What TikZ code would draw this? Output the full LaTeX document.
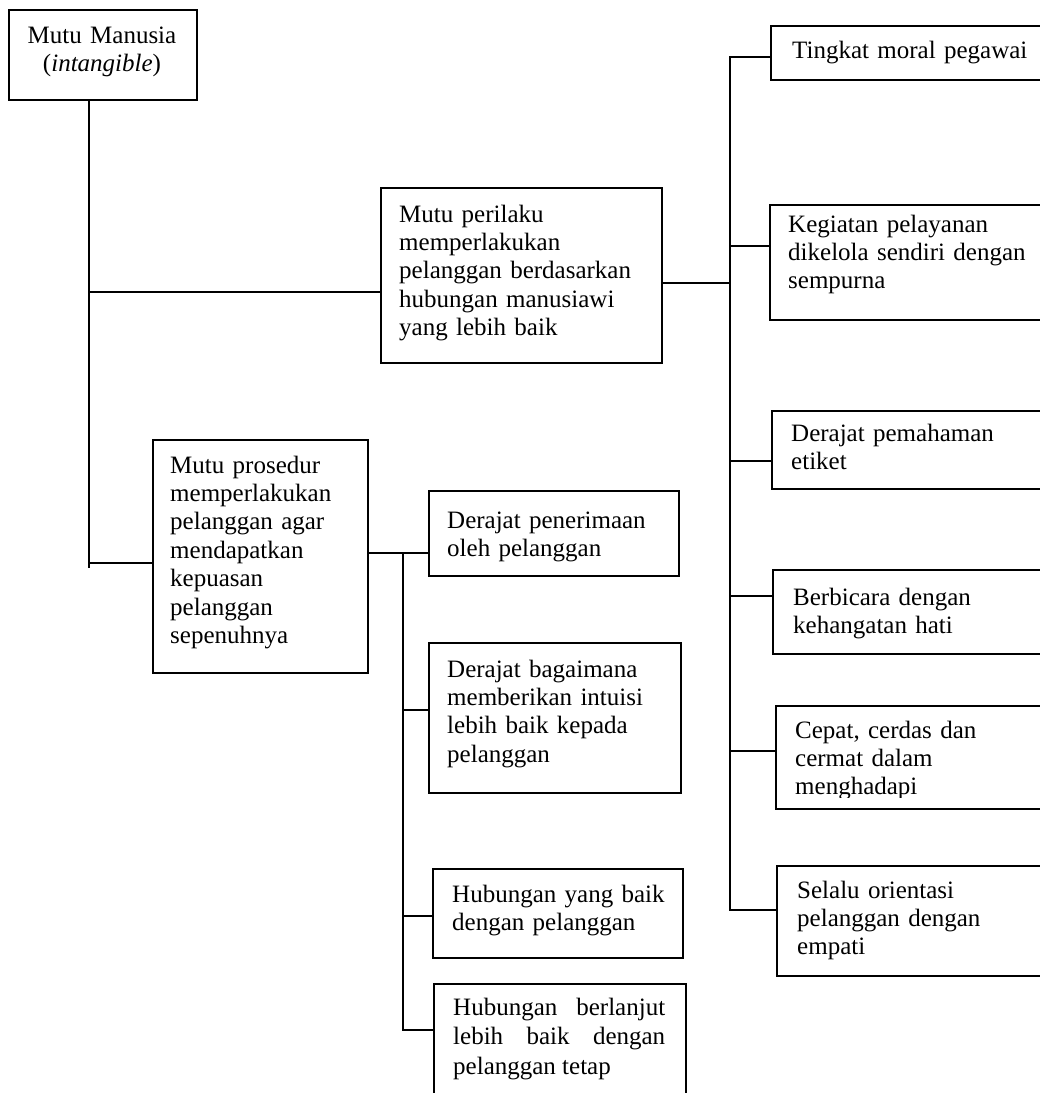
\documentclass[tikz,border=0pt]{standalone}
\usepackage{fontspec}
\setmainfont{Liberation Serif}
\begin{document}
\begin{tikzpicture}[x=1pt,y=-1pt,
  box/.style={draw, line width=1.6pt, inner sep=0pt, anchor=north west},
  txt/.style={inner sep=0pt, anchor=base west, align=left, text width=#1,
    font=\fontsize{25}{28.4}\selectfont},
  txt/.default=260pt,
  conn/.style={line width=1.6pt}]
\useasboundingbox (0,0) rectangle (1040,1093);
\clip (0,0) rectangle (1040,1093);
\fill[white] (0,0) rectangle (1040,1093);

% boxes
\node[box, minimum width=188pt, minimum height=90pt] (root) at (8,9) {};
\node[box, minimum width=281pt, minimum height=175pt] (behav) at (380,187) {};
\node[box, minimum width=215pt, minimum height=233pt] (proc) at (152,439) {};
\node[box, minimum width=290pt, minimum height=54pt] (t1) at (770,25) {};
\node[box, minimum width=290pt, minimum height=115pt] (t2) at (769,204) {};
\node[box, minimum width=290pt, minimum height=78pt] (t3) at (771,410) {};
\node[box, minimum width=290pt, minimum height=84pt] (t4) at (772,569) {};
\node[box, minimum width=290pt, minimum height=103pt] (t5) at (775,705) {};
\node[box, minimum width=290pt, minimum height=110pt] (t6) at (776,865) {};
\node[box, minimum width=250pt, minimum height=85pt] (p1) at (428,490) {};
\node[box, minimum width=252pt, minimum height=150pt] (p2) at (428,642) {};
\node[box, minimum width=250pt, minimum height=89pt] (p3) at (432,868) {};
\node[box, minimum width=252pt, minimum height=130pt] (p4) at (433,983) {};

% texts
\node[txt=188pt, align=center, anchor=base] (rootT) at (102,43) {Mutu Manusia\\(\textit{intangible})};
\node[txt] (behavT) at (399,222) {Mutu perilaku\\memperlakukan\\pelanggan berdasarkan\\hubungan manusiawi\\yang lebih baik};
\node[txt=190pt] (procT) at (170,473) {Mutu prosedur\\memperlakukan\\pelanggan agar\\mendapatkan\\kepuasan\\pelanggan\\sepenuhnya};
\node[txt] (t1T) at (792,58) {Tingkat moral pegawai};
\node[txt] (t2T) at (788,232) {Kegiatan pelayanan\\dikelola sendiri dengan\\sempurna};
\node[txt] (t3T) at (791,441) {Derajat pemahaman\\etiket};
\node[txt] (t4T) at (793,605) {Berbicara dengan\\kehangatan hati};
\begin{scope}
\clip (775,705) rectangle (1050,797);
\node[txt] (t5T) at (795,738) {Cepat, cerdas dan\\cermat dalam\\menghadapi};
\end{scope}
\node[txt] (t6T) at (797,898) {Selalu orientasi\\pelanggan dengan\\empati};
\node[txt=240pt] (p1T) at (447,528) {Derajat penerimaan\\oleh pelanggan};
\node[txt=240pt] (p2T) at (447,677) {Derajat bagaimana\\memberikan intuisi\\lebih baik kepada\\pelanggan};
\node[txt=240pt] (p3T) at (452,902) {Hubungan yang baik\\dengan pelanggan};
\node[txt=212pt, align=justify, font=\fontsize{25}{29.5}\selectfont] (p4T) at (453,1015) {Hubungan berlanjut\linebreak lebih baik dengan\linebreak pelanggan tetap};

% connectors
\coordinate (j0) at (89,568);
\coordinate (j1) at (89,292);
\coordinate (j2) at (89,563);
\draw[conn] (root.south -| j0) -- (j0);
\draw[conn] (j1) -- (j1 -| behav.west);
\draw[conn] (j2) -- (j2 -| proc.west);

\coordinate (k0) at (730,283);
\coordinate (k1) at (730,57);
\coordinate (k2) at (730,246);
\coordinate (k3) at (730,461);
\coordinate (k4) at (730,596);
\coordinate (k5) at (730,751);
\coordinate (k6) at (730,910);
\draw[conn] (behav.east |- k0) -- (k0);
\draw[conn] (k1 -| t1.west) -- (k1) -- (k6) -- (k6 -| t6.west);
\draw[conn] (k2) -- (k2 -| t2.west);
\draw[conn] (k3) -- (k3 -| t3.west);
\draw[conn] (k4) -- (k4 -| t4.west);
\draw[conn] (k5) -- (k5 -| t5.west);

\coordinate (m1) at (403,553);
\coordinate (m2) at (403,710);
\coordinate (m3) at (403,916);
\coordinate (m4) at (403,1030);
\draw[conn] (proc.east |- m1) -- (m1 -| p1.west);
\draw[conn] (m1) -- (m4) -- (m4 -| p4.west);
\draw[conn] (m2) -- (m2 -| p2.west);
\draw[conn] (m3) -- (m3 -| p3.west);
\end{tikzpicture}
\end{document}
